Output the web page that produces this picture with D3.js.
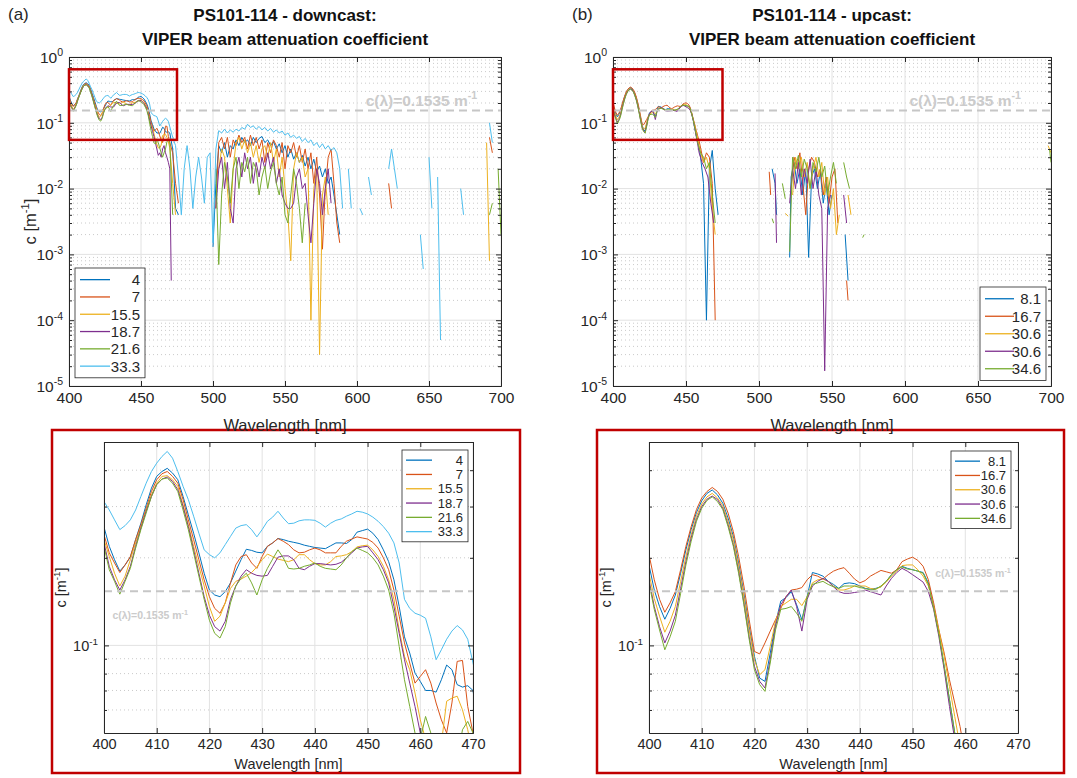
<!DOCTYPE html>
<html>
<head>
<meta charset="utf-8">
<script src="https://cdn.jsdelivr.net/npm/d3@7"></script>
<style>
  body { margin: 0; background: #fff; }
  text { font-family: "Liberation Sans", Arial, Helvetica, sans-serif; }
</style>
</head>
<body>
<div id="vis"></div>
<script>
// ---- data ----
const DOWN_DEPTHS = ["4", "7", "15.5", "18.7", "21.6", "33.3"];
const UP_DEPTHS = ["8.1", "16.7", "30.6", "30.6", "34.6"];
const COLORS = ["#0072BD", "#D95319", "#EDB120", "#7E2F8E", "#77AC30", "#4DBEEE"];
const C_REF = 0.1535;
const ZOOM_BOX = {nm0: 400, nm1: 475, c0: 0.055, c1: 0.65};

// downcast, 1 nm steps from 400 nm
const DC_NEAR_4 = [.255,.219,.197,.180,.189,.201,.231,.263,.304,.347,
  .381,.396,.406,.391,.371,.325,.281,.243,.208,.177,
  .155,.149,.147,.153,.164,.180,.197,.214,.212,.209,
  .208,.219,.225,.233,.231,.228,.226,.224,.221,.219,
  .217,.216,.215,.220,.225,.225,.224,.231,.245,.248,
  .251,.243,.231,.213,.194,.168,.136,.107,.0941,.0803,
  .0752,.0700,.0700,.0691,.0762,.0856,.0825,.0733,.0719,.0727,.0700];
const DC_NEAR_7 = [.240,.208,.192,.178,.189,.202,.231,.260,.296,.338,
  .371,.389,.396,.381,.361,.317,.270,.231,.197,.168,
  .147,.134,.129,.140,.164,.189,.202,.205,.192,.184,
  .202,.219,.225,.233,.228,.222,.213,.208,.209,.213,
  .216,.213,.208,.208,.208,.219,.228,.232,.236,.234,
  .232,.226,.216,.200,.182,.155,.126,.102,.087,.0742,
  .0782,.0825,.0742,.0634,.0555,.050,.0634,.0881,.0888,.0617,.050];
const DC_NEAR_15 = [.231,.202,.177,.160,.173,.197,.225,.256,.292,.329,
  .361,.381,.383,.371,.352,.304,.260,.219,.187,.160,
  .136,.121,.126,.140,.157,.166,.169,.173,.178,.186,
  .197,.206,.202,.198,.196,.194,.197,.205,.205,.197,
  .191,.189,.189,.194,.202,.203,.205,.210,.218,.220,
  .221,.213,.202,.187,.168,.144,.113,.0917,.0825,.0686,
  .0555,.0475,.0415,.0415,.046,.0643,.0659,.0669,.0601,.0513,.0415];
const DC_NEAR_18 = [.225,.187,.168,.155,.168,.187,.219,.253,.289,.325,
  .357,.373,.379,.366,.343,.300,.256,.213,.177,.147,
  .127,.116,.112,.121,.144,.160,.173,.182,.177,.174,
  .173,.174,.187,.201,.203,.203,.197,.184,.182,.187,
  .191,.191,.190,.189,.190,.193,.200,.208,.216,.218,
  .219,.208,.197,.182,.164,.136,.110,.0893,.0742,.0617,
  .050,.040,.032,.035,.030,.040,.045,.035,.030,.025,.020];
const DC_NEAR_21 = [.219,.182,.166,.150,.166,.184,.216,.250,.285,.325,
  .357,.373,.376,.361,.338,.292,.250,.208,.173,.144,
  .122,.110,.106,.116,.140,.160,.170,.177,.164,.149,
  .168,.184,.198,.213,.200,.184,.183,.184,.187,.189,
  .192,.187,.184,.183,.182,.189,.200,.210,.216,.212,
  .208,.200,.189,.173,.155,.129,.0992,.0762,.0617,.050,
  .0475,.057,.050,.0415,.035,.030,.035,.040,.0513,.0548,.050];
const DC_NEAR_33 = [.312,.292,.270,.250,.258,.270,.292,.325,.361,.396,
  .423,.446,.464,.440,.396,.352,.317,.278,.243,.213,
  .205,.200,.208,.222,.237,.253,.258,.260,.250,.236,
  .250,.267,.276,.289,.274,.262,.263,.268,.270,.270,
  .269,.263,.255,.263,.269,.272,.278,.283,.289,.287,
  .283,.276,.267,.256,.243,.225,.192,.144,.134,.129,
  .127,.124,.107,.0893,.0966,.105,.112,.117,.113,.105,.087];

// downcast beyond 470 nm: [nm, c], null = gap (negative values not shown)
const DC_FAR_4 = [[472,0.04],[474,0.005],[476,0.004],null,
  [500,0.0013],[502,0.012],[504,0.045],[506,0.035],[508,0.05],[510,0.03],[512,0.045],[514,0.04],
  [516,0.055],[518,0.045],[520,0.06],[522,0.05],[524,0.055],[526,0.045],[528,0.06],[530,0.05],
  [532,0.058],[534,0.062],[536,0.05],[538,0.055],[540,0.045],[542,0.052],[544,0.04],[546,0.048],
  [548,0.035],[550,0.045],[552,0.03],[554,0.04],[556,0.028],[558,0.035],[560,0.025],[562,0.032],
  [564,0.022],[566,0.03],[568,0.02],[570,0.028],[572,0.018],[574,0.022],[576,0.015],[578,0.02],
  [580,0.012],[582,0.015],[584,0.008],[586,0.004],[588,0.002]];
const DC_FAR_7 = [[472,0.035],[474,0.012],[476,0.006],null,
  [502,0.005],[504,0.05],[506,0.06],[508,0.04],[510,0.06],[512,0.03],[514,0.055],[516,0.045],
  [518,0.065],[520,0.05],[522,0.06],[524,0.04],[526,0.065],[528,0.045],[530,0.06],[532,0.04],
  [534,0.055],[536,0.025],[538,0.05],[540,0.035],[542,0.055],[544,0.045],[546,0.03],[548,0.05],
  [550,0.02],[552,0.045],[554,0.035],[556,0.05],[558,0.03],[560,0.045],[562,0.025],[564,0.04],
  [566,0.02],[568,0.035],[570,0.012],[572,0.03],[574,0.008],[576,0.0012],[578,0.01],[580,0.03],
  [582,0.04],[584,0.012],[586,0.003],[588,0.0015],null,
  [622,0.012],[624,0.005],null,[692,0.06],[694,0.035]];
const DC_FAR_15 = [[472,0.012],[474,0.004],null,
  [504,0.02],[506,0.04],[508,0.03],[510,0.01],[512,0.003],[514,0.02],[516,0.05],[518,0.06],
  [520,0.04],[522,0.055],[524,0.035],[526,0.05],[528,0.03],[530,0.045],[532,0.025],[534,0.04],
  [536,0.045],[538,0.03],[540,0.05],[542,0.025],[544,0.04],[546,0.015],[548,0.03],[550,0.01],
  [552,0.004],[554,0.0008],[556,0.02],[558,0.035],[560,0.025],[562,0.03],[564,0.015],[566,0.02],
  [568,0.0001],[570,0.01],[572,0.02],[574,0.00003],[576,0.008],[578,0.015],[580,0.004],null,
  [690,0.05],[692,0.0008]];
const DC_FAR_18 = [[471,0.0004],null,
  [502,0.005],[504,0.02],[506,0.03],[508,0.01],[510,0.025],[512,0.005],[514,0.003],[516,0.02],
  [518,0.03],[520,0.015],[522,0.035],[524,0.02],[526,0.03],[528,0.012],[530,0.025],[532,0.015],
  [534,0.03],[536,0.02],[538,0.035],[540,0.02],[542,0.03],[544,0.012],[546,0.02],[548,0.008],
  [550,0.006],[552,0.005],[554,0.005],[556,0.006],[558,0.015],[560,0.02],[562,0.01],[564,0.012],
  [566,0.004],[568,0.0015],[570,0.006],[572,0.02],[574,0.012],[576,0.004],[578,0.01],[580,0.02],
  [582,0.006]];
const DC_FAR_21 = [[472,0.004],null,
  [502,0.02],[504,0.0007],[506,0.008],[508,0.025],[510,0.015],[512,0.006],[514,0.02],[516,0.03],
  [518,0.01],[520,0.025],[522,0.018],[524,0.03],[526,0.012],[528,0.025],[530,0.02],[532,0.008],
  [534,0.015],[536,0.022],[538,0.01],[540,0.018],[542,0.025],[544,0.012],[546,0.008],[548,0.015],
  [550,0.004],[552,0.003],[554,0.008],[556,0.02],[558,0.012],[560,0.005],[562,0.0015],[564,0.006],
  null,[692,0.004],[694,0.006],null,[698,0.02],[700,0.002]];
const DC_FAR_33 = [[472,0.06],[474,0.045],[476,0.015],[478,0.004],[480,0.02],[482,0.045],
  [484,0.02],[486,0.005],[488,0.015],[490,0.03],[492,0.015],[494,0.006],[496,0.03],[498,0.035],
  [500,0.0015],[502,0.04],[504,0.076],[506,0.07],[508,0.08],[510,0.07],[512,0.078],[514,0.072],
  [516,0.08],[518,0.075],[520,0.085],[522,0.08],[524,0.095],[526,0.085],[528,0.09],[530,0.08],
  [532,0.088],[534,0.078],[536,0.085],[538,0.075],[540,0.082],[542,0.072],[544,0.078],[546,0.07],
  [548,0.075],[550,0.065],[552,0.07],[554,0.06],[556,0.065],[558,0.058],[560,0.062],[562,0.052],
  [564,0.058],[566,0.05],[568,0.055],[570,0.045],[572,0.05],[574,0.042],[576,0.048],[578,0.04],
  [580,0.045],[582,0.038],[584,0.042],[586,0.035],[588,0.02],[590,0.005],null,
  [594,0.02],[596,0.005],null,[602,0.005],[604,0.004],null,[608,0.015],[610,0.008],null,
  [622,0.02],[624,0.04],[626,0.02],[628,0.01],null,[632,0.003],null,[636,0.0025],null,
  [644,0.002],[646,0.0006],null,[650,0.03],[652,0.005],null,[656,0.015],[658,0.00005],null,
  [672,0.01],[674,0.004],null,[678,0.0035],null,[692,0.1],[694,0.05]];

// upcast, 1 nm steps from 400 nm
const UC_NEAR_8 = [.189,.155,.136,.123,.134,.149,.177,.213,.250,.286,
  .314,.333,.342,.329,.308,.274,.237,.192,.151,.116,
  .0917,.0772,.0752,.0941,.119,.142,.146,.153,.138,.1225,
  .147,.178,.176,.173,.166,.162,.157,.163,.164,.163,
  .160,.157,.156,.157,.159,.166,.175,.182,.187,.184,
  .182,.180,.178,.164,.136,.110,.0847,.0651,.050,.0415];
const UC_NEAR_16 = [.205,.168,.144,.130,.140,.153,.182,.219,.256,.293,
  .321,.338,.349,.338,.318,.285,.246,.202,.160,.1225,
  .0953,.0935,.102,.112,.1225,.134,.147,.155,.156,.158,
  .168,.175,.173,.169,.175,.180,.183,.185,.177,.169,
  .164,.167,.173,.177,.181,.179,.177,.182,.194,.198,
  .201,.196,.187,.168,.140,.113,.0941,.0762,.0634,.0527,.0415];
const UC_NEAR_30A = [.177,.145,.126,.111,.121,.136,.166,.202,.240,.278,
  .306,.324,.333,.321,.302,.267,.231,.187,.147,.113,
  .0893,.0793,.0825,.0992,.121,.136,.140,.144,.144,.137,
  .147,.164,.168,.169,.166,.160,.155,.155,.157,.160,
  .160,.160,.157,.156,.159,.165,.173,.180,.188,.189,
  .189,.182,.173,.160,.136,.112,.0917,.0723,.0570,.045];
const UC_NEAR_30B = [.168,.136,.116,.102,.112,.127,.157,.194,.234,.271,
  .300,.318,.326,.317,.296,.260,.222,.180,.140,.107,
  .0847,.0752,.0714,.0893,.116,.138,.147,.155,.136,.112,
  .144,.160,.166,.170,.166,.159,.153,.151,.151,.152,
  .153,.155,.153,.151,.149,.160,.170,.178,.184,.180,
  .175,.170,.165,.153,.133,.107,.0825,.0617,.0474];
const UC_NEAR_34 = [.164,.133,.113,.0966,.107,.121,.151,.189,.228,.267,
  .296,.315,.324,.312,.293,.256,.219,.177,.138,.105,
  .0825,.0733,.0695,.0870,.113,.133,.134,.136,.129,.121,
  .147,.162,.164,.166,.162,.159,.157,.160,.160,.160,
  .158,.157,.155,.156,.160,.166,.175,.182,.186,.183,
  .182,.180,.177,.162,.134,.109,.0847,.0651,.050,.0415];

const UC_FAR_8 = [[460,0.03],[462,0.012],[464,0.0001],[466,0.02],[468,0.038],[470,0.01],[472,0.004],null,
  [509,0.02],[511,0.012],[512,0.004],null,
  [521,0.0009],[522,0.015],[524,0.025],[526,0.012],[528,0.02],[530,0.008],[532,0.02],[534,0.0009],
  [536,0.015],[538,0.02],[540,0.01],[542,0.018],[544,0.006],[546,0.012],[548,0.004],[550,0.008],null,
  [559,0.002],[561,0.0004]];
const UC_FAR_16 = [[462,0.025],[464,0.035],[466,0.03],[468,0.012],[470,0.0001],null,
  [507,0.018],[508,0.008],null,
  [522,0.01],[524,0.03],[526,0.02],[528,0.035],[530,0.012],[532,0.004],[534,0.02],[536,0.03],
  [538,0.025],[540,0.015],[542,0.02],[544,0.008],[546,0.015],[548,0.006],[550,0.015],[552,0.02],
  [554,0.003],null,[560,0.0004],[561,0.0002]];
const UC_FAR_30A = [[460,0.035],[462,0.025],[464,0.03],[466,0.02],[468,0.005],[470,0.002],null,
  [518,0.0042],[520,0.0038],null,
  [523,0.008],[525,0.03],[527,0.02],[529,0.03],[531,0.015],[533,0.025],[535,0.01],[537,0.02],
  [539,0.03],[541,0.015],[543,0.025],[545,0.008],[547,0.015],[549,0.005],[551,0.01],[553,0.002],
  [555,0.004],null,[561,0.008],[563,0.004],null,[698,0.045],[700,0.035]];
const UC_FAR_30B = [[459,0.035],[461,0.025],[463,0.02],[465,0.015],[467,0.006],[469,0.003],null,
  [511,0.017],[512,0.0015],null,
  [521,0.006],[523,0.02],[525,0.01],[527,0.025],[529,0.008],[531,0.02],[533,0.012],[535,0.028],
  [537,0.01],[539,0.02],[541,0.008],[543,0.005],[545,0.000017],[547,0.005],[549,0.008],null,
  [558,0.008],[560,0.003]];
const UC_FAR_34 = [[460,0.035],[462,0.03],[464,0.02],[466,0.025],[468,0.008],[470,0.003],null,
  [509,0.0035],[510,0.003],null,[516,0.012],[518,0.007],null,
  [521,0.0011],[523,0.03],[525,0.02],[527,0.032],[529,0.015],[531,0.028],[533,0.02],[535,0.01],
  [537,0.025],[539,0.018],[541,0.03],[543,0.015],[545,0.022],[547,0.008],[549,0.015],[551,0.025],
  [553,0.012],null,[558,0.025],[560,0.015],[562,0.01],null,[571,0.0018],[572,0.002],null,
  [699,0.04],[700,0.025]];

// x ticks / y ticks
const TOP_X_TICKS = [400, 450, 500, 550, 600, 650, 700];
const TOP_Y_TICKS = [1e-5, 1e-4, 1e-3, 1e-2, 1e-1, 1];
const ZOOM_X_TICKS = [400, 410, 420, 430, 440, 450, 460, 470];
const ZOOM_Y_TICKS = [0.1];

function spectrum(near, far) {
  return near.map((v, i) => [400 + i, v]).concat(far);
}
const DOWN_SERIES = [
  spectrum(DC_NEAR_4, DC_FAR_4), spectrum(DC_NEAR_7, DC_FAR_7), spectrum(DC_NEAR_15, DC_FAR_15),
  spectrum(DC_NEAR_18, DC_FAR_18), spectrum(DC_NEAR_21, DC_FAR_21), spectrum(DC_NEAR_33, DC_FAR_33)];
const UP_SERIES = [
  spectrum(UC_NEAR_8, UC_FAR_8), spectrum(UC_NEAR_16, UC_FAR_16), spectrum(UC_NEAR_30A, UC_FAR_30A),
  spectrum(UC_NEAR_30B, UC_FAR_30B), spectrum(UC_NEAR_34, UC_FAR_34)];

// ---- layout ----
const AX = "#262626";
const SVG = d3.select("#vis").append("svg").attr("width", 1077).attr("height", 778);

function minorLog(lo, hi) {
  const out = [];
  for (let k = lo; k < hi; k++) for (let m = 2; m < 10; m++) out.push(m * Math.pow(10, k));
  return out;
}

function supText(t, base, sup, tail, fs) {
  t.append("tspan").text(base);
  t.append("tspan").attr("dy", -fs * 0.42).attr("font-size", fs * 0.68).text(sup);
  if (tail) t.append("tspan").attr("dy", fs * 0.42).text(tail);
}

function drawPanel(p) {
  const b = p.box;
  const X = d3.scaleLinear().domain(p.xDomain).range([b.left, b.right]);
  const Y = d3.scaleLog().domain(p.yDomain).range([b.bottom, b.top]);
  const g = SVG.append("g");

  SVG.append("clipPath").attr("id", "clip-" + p.id).append("rect")
    .attr("x", b.left).attr("y", b.top)
    .attr("width", b.right - b.left).attr("height", b.bottom - b.top);

  // grid
  g.selectAll(null).data(p.yMinor.filter(d => d > p.yDomain[0] && d < p.yDomain[1])).enter().append("line")
    .attr("x1", b.left).attr("x2", b.right).attr("y1", d => Y(d)).attr("y2", d => Y(d))
    .attr("stroke", "#bcbcbc").attr("stroke-width", 0.8).attr("stroke-dasharray", "1,3");
  g.selectAll(null).data(p.xTicks).enter().append("line")
    .attr("x1", d => X(d)).attr("x2", d => X(d)).attr("y1", b.top).attr("y2", b.bottom)
    .attr("stroke", "#e2e2e2").attr("stroke-width", 1);
  g.selectAll(null).data(p.yTicks).enter().append("line")
    .attr("x1", b.left).attr("x2", b.right).attr("y1", d => Y(d)).attr("y2", d => Y(d))
    .attr("stroke", "#e2e2e2").attr("stroke-width", 1);

  // spectra
  const line = d3.line().defined(d => d !== null).x(d => X(d[0])).y(d => Y(d[1]));
  g.append("g").attr("clip-path", "url(#clip-" + p.id + ")")
    .selectAll("path").data(p.series).enter().append("path")
    .attr("d", d => line(d)).attr("fill", "none")
    .attr("stroke", (d, i) => COLORS[i]).attr("stroke-width", 1).attr("stroke-linejoin", "round");

  // reference line and its label
  g.append("line").attr("x1", b.left).attr("x2", b.right)
    .attr("y1", Y(C_REF)).attr("y2", Y(C_REF))
    .attr("stroke", "#c6c6c6").attr("stroke-width", 2).attr("stroke-dasharray", "8,5");
  const at = g.append("text").attr("x", X(p.annot.nm)).attr("y", Y(C_REF) + p.annot.dy)
    .attr("font-size", p.annot.size).attr("font-weight", "bold").attr("fill", "#cbcbcb");
  supText(at, "c(λ)=0.1535 m", "-1", null, p.annot.size);

  // axes
  const xb = g.append("g").attr("transform", "translate(0," + b.bottom + ")")
    .call(d3.axisBottom(X).tickValues(p.xTicks).tickSizeInner(-5).tickSizeOuter(0).tickPadding(p.xPad));
  const xt = g.append("g").attr("transform", "translate(0," + b.top + ")")
    .call(d3.axisTop(X).tickValues(p.xTicks).tickSizeInner(-5).tickSizeOuter(0).tickFormat(""));
  const yl = g.append("g").attr("transform", "translate(" + b.left + ",0)")
    .call(d3.axisLeft(Y).tickValues(p.yTicks).tickSizeInner(-5).tickSizeOuter(0).tickFormat(""));
  const yr = g.append("g").attr("transform", "translate(" + b.right + ",0)")
    .call(d3.axisRight(Y).tickValues(p.yTicks).tickSizeInner(-5).tickSizeOuter(0).tickFormat(""));
  const ylm = g.append("g").attr("transform", "translate(" + b.left + ",0)")
    .call(d3.axisLeft(Y).tickValues(p.yMinor).tickSizeInner(-3).tickSizeOuter(0).tickFormat(""));
  const yrm = g.append("g").attr("transform", "translate(" + b.right + ",0)")
    .call(d3.axisRight(Y).tickValues(p.yMinor).tickSizeInner(-3).tickSizeOuter(0).tickFormat(""));
  [xb, xt, yl, yr, ylm, yrm].forEach(a => {
    a.selectAll("path, line").attr("stroke", AX).attr("stroke-width", 1);
  });
  xb.attr("font-size", p.tickSize).selectAll("text").attr("fill", AX);

  // log tick labels 10^k
  p.yTicks.forEach(v => {
    const t = g.append("text").attr("x", b.left - 6).attr("y", Y(v) + p.tickSize * 0.38)
      .attr("text-anchor", "end").attr("font-size", p.tickSize).attr("fill", AX);
    supText(t, "10", String(Math.round(Math.log10(v))), null, p.tickSize);
  });

  // axis labels
  g.append("text").attr("x", (b.left + b.right) / 2).attr("y", p.xLabelY)
    .attr("text-anchor", "middle").attr("font-size", p.labelSize).attr("fill", AX)
    .text("Wavelength [nm]");
  if (p.yLabelX) {
    const yt = g.append("text")
      .attr("transform", "translate(" + p.yLabelX + "," + ((b.top + b.bottom) / 2) + ") rotate(-90)")
      .attr("text-anchor", "middle").attr("font-size", p.labelSize).attr("fill", AX);
    supText(yt, "c [m", "-1", "]", p.labelSize);
  }

  // legend
  const L = p.legend;
  const lg = g.append("g");
  lg.append("rect").attr("x", L.x).attr("y", L.y).attr("width", L.w)
    .attr("height", L.pad * 2 + L.row * p.labels.length)
    .attr("fill", "#fff").attr("stroke", AX).attr("stroke-width", 0.8);
  p.labels.forEach((lab, i) => {
    const cy = L.y + L.pad + L.row * (i + 0.5);
    lg.append("line").attr("x1", L.x + L.l0).attr("x2", L.x + L.l1).attr("y1", cy).attr("y2", cy)
      .attr("stroke", COLORS[i]).attr("stroke-width", 1.3);
    lg.append("text").attr("x", L.x + L.w - L.tr).attr("y", cy + L.font * 0.36)
      .attr("text-anchor", "end").attr("font-size", L.font).attr("fill", AX).text(lab);
  });

  // zoom window marker
  if (p.zoomBox) {
    g.append("rect").attr("x", X(ZOOM_BOX.nm0)).attr("y", Y(ZOOM_BOX.c1))
      .attr("width", X(ZOOM_BOX.nm1) - X(ZOOM_BOX.nm0)).attr("height", Y(ZOOM_BOX.c0) - Y(ZOOM_BOX.c1))
      .attr("fill", "none").attr("stroke", "#c00000").attr("stroke-width", 2.5);
  }
}

function title(cx, tag, tagX, line1) {
  SVG.append("text").attr("x", tagX).attr("y", 20).attr("font-size", 17).attr("fill", AX).text(tag);
  SVG.append("text").attr("x", cx).attr("y", 21).attr("text-anchor", "middle")
    .attr("font-size", 17).attr("font-weight", "bold").attr("fill", "#111").text(line1);
  SVG.append("text").attr("x", cx).attr("y", 45).attr("text-anchor", "middle")
    .attr("font-size", 17).attr("font-weight", "bold").attr("fill", "#111")
    .text("VIPER beam attenuation coefficient");
}

const TOP_MINOR = minorLog(-5, 0);
const ZOOM_MINOR = [0.06, 0.07, 0.08, 0.09, 0.2, 0.3, 0.4];

const TL = {left: 69, right: 501, top: 57, bottom: 386};
const TR = {left: 613, right: 1051, top: 57, bottom: 386};
const BL = {left: 104, right: 473, top: 442, bottom: 733};
const BR = {left: 649, right: 1018, top: 442, bottom: 733};

// red frames around the zoomed panels
[[52, 430, 468, 343], [597, 430, 467, 343]].forEach(r => {
  SVG.append("rect").attr("x", r[0]).attr("y", r[1]).attr("width", r[2]).attr("height", r[3])
    .attr("fill", "none").attr("stroke", "#c00000").attr("stroke-width", 2.5);
});

drawPanel({id: "tl", box: TL, xDomain: [400, 700], yDomain: [1e-5, 1], xTicks: TOP_X_TICKS,
  yTicks: TOP_Y_TICKS, yMinor: TOP_MINOR, series: DOWN_SERIES, labels: DOWN_DEPTHS,
  tickSize: 15.5, labelSize: 16.5, xPad: 6, xLabelY: 431, yLabelX: 36,
  annot: {nm: 606, dy: -5, size: 15.5}, zoomBox: true,
  legend: {x: 75, y: 268, w: 70, row: 17.3, pad: 3, font: 15, l0: 5, l1: 35, tr: 5}});
drawPanel({id: "tr", box: TR, xDomain: [400, 700], yDomain: [1e-5, 1], xTicks: TOP_X_TICKS,
  yTicks: TOP_Y_TICKS, yMinor: TOP_MINOR, series: UP_SERIES, labels: UP_DEPTHS,
  tickSize: 15.5, labelSize: 16.5, xPad: 6, xLabelY: 431, yLabelX: null,
  annot: {nm: 603, dy: -5, size: 15.5}, zoomBox: true,
  legend: {x: 980, y: 287, w: 66, row: 17.5, pad: 3, font: 15, l0: 5, l1: 34, tr: 5}});
drawPanel({id: "bl", box: BL, xDomain: [400, 470], yDomain: [0.05, 0.5], xTicks: ZOOM_X_TICKS,
  yTicks: ZOOM_Y_TICKS, yMinor: ZOOM_MINOR, series: DOWN_SERIES, labels: DOWN_DEPTHS,
  tickSize: 14.5, labelSize: 14.5, xPad: 6, xLabelY: 769, yLabelX: 66,
  annot: {nm: 401.6, dy: 28, size: 10.5},
  legend: {x: 402, y: 450, w: 66, row: 14.3, pad: 3, font: 13, l0: 4, l1: 30, tr: 5}});
drawPanel({id: "br", box: BR, xDomain: [400, 470], yDomain: [0.05, 0.5], xTicks: ZOOM_X_TICKS,
  yTicks: ZOOM_Y_TICKS, yMinor: ZOOM_MINOR, series: UP_SERIES, labels: UP_DEPTHS,
  tickSize: 14.5, labelSize: 14.5, xPad: 6, xLabelY: 769, yLabelX: 611,
  annot: {nm: 454.3, dy: -14, size: 10.5},
  legend: {x: 951, y: 451, w: 60, row: 14.3, pad: 3, font: 13, l0: 4, l1: 29, tr: 5}});

title((TL.left + TL.right) / 2, "(a)", 8, "PS101-114 - downcast:");
title((TR.left + TR.right) / 2, "(b)", 572, "PS101-114 - upcast:");
</script>
</body>
</html>
